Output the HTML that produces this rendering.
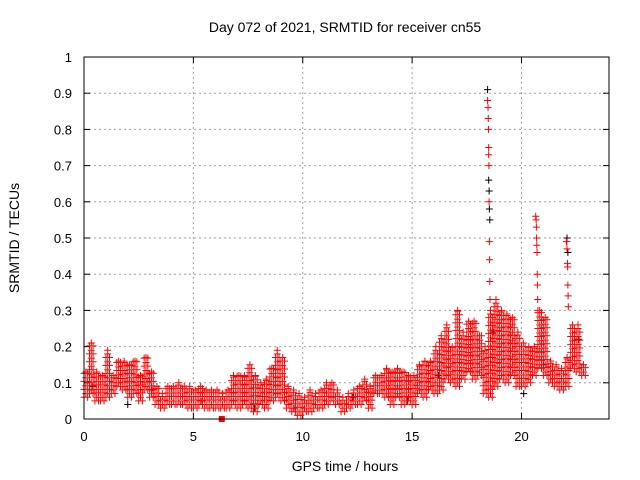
<!DOCTYPE html>
<html><head><meta charset="utf-8"><style>
body{margin:0;background:#fff}
svg{display:block;font-family:"Liberation Sans",sans-serif}
</style></head><body>
<svg id="chart" width="640" height="480" viewBox="0 0 640 480">
<rect width="640" height="480" fill="#fff"/>
<text x="345" y="32" font-size="14" text-anchor="middle">Day 072 of 2021, SRMTID for receiver cn55</text>
<text transform="translate(19,238) rotate(-90)" font-size="14" text-anchor="middle">SRMTID / TECUs</text>
<text x="345" y="471" font-size="14" text-anchor="middle">GPS time / hours</text>
<g id="grid"></g>
<g id="marks"></g>
<rect x="84" y="57" width="525" height="362" fill="none" stroke="#000" stroke-width="1"/>
</svg>
<script>
const binStart=[0,0.25,0.5,0.75,1,1.25,1.5,1.75,2,2.25,2.5,2.75,3,3.25,3.5,3.75,4,4.25,4.5,4.75,5,5.25,5.5,5.75,6,6.25,6.5,6.75,7,7.25,7.5,7.75,8,8.25,8.5,8.75,9,9.25,9.5,9.75,10,10.25,10.5,10.75,11,11.25,11.5,11.75,12,12.25,12.5,12.75,13,13.25,13.5,13.75,14,14.25,14.5,14.75,15,15.25,15.5,15.75,16,16.25,16.5,16.75,17,17.25,17.5,17.75,18,18.25,18.5,18.75,19,19.25,19.5,19.75,20,20.25,20.5,20.75,21,21.25,21.5,21.75,22,22.25,22.5,22.75];
const binMin=[.06,.07,.05,.05,.06,.07,.09,.08,.06,.07,.05,.08,.06,.04,.03,.04,.04,.04,.04,.03,.03,.04,.03,.03,.03,.03,.03,.04,.03,.04,.03,.02,.04,.03,.05,.06,.05,.03,.02,.01,.02,.02,.03,.03,.04,.05,.04,.02,.03,.04,.04,.05,.03,.07,.07,.06,.04,.06,.04,.05,.04,.07,.06,.08,.07,.08,.11,.10,.09,.11,.13,.11,.12,.07,.06,.09,.11,.10,.12,.09,.09,.10,.12,.14,.12,.10,.09,.08,.09,.14,.13,.12];
const binMax=[.13,.21,.13,.12,.19,.12,.16,.16,.15,.16,.12,.17,.13,.09,.07,.09,.09,.10,.09,.09,.08,.09,.08,.08,.08,.07,.08,.12,.12,.12,.15,.12,.10,.11,.14,.19,.17,.09,.08,.07,.06,.08,.07,.08,.10,.10,.08,.06,.07,.08,.09,.11,.09,.12,.12,.14,.13,.14,.13,.12,.12,.15,.16,.16,.20,.23,.26,.20,.30,.24,.27,.27,.23,.20,.30,.33,.30,.29,.28,.24,.21,.20,.20,.30,.28,.16,.15,.14,.17,.26,.26,.15];
const spikeT=[18.45,18.47,18.48,18.49,18.5,18.5,18.51,18.52,18.53,18.54,18.55,18.56,20.65,20.67,20.68,20.69,20.7,20.71,20.72,20.73,20.74,20.75,22.05,22.07,22.08,22.1,22.11,22.12,22.13,22.14];
const spikeV=[.88,.86,.83,.80,.75,.73,.70,.60,.49,.44,.38,.33,.56,.55,.53,.50,.48,.46,.40,.37,.33,.30,.49,.49,.47,.43,.42,.37,.34,.31];
const blackT=[18.45,18.5,18.52,18.53,18.55,22.08,22.12,2.0,3.1,5.4,7.8,12.3,14.8,16.2,18.7,20.1,21.0,22.6,0.4,9.6];
const blackV=[.91,.66,.63,.58,.55,.50,.46,.04,.08,.05,.03,.06,.05,.12,.24,.07,.15,.22,.09,.03];
const xTicks=[0,5,10,15,20];
const yTicks=[0,0.1,0.2,0.3,0.4,0.5,0.6,0.7,0.8,0.9,1];
const yLabels=["0","0.1","0.2","0.3","0.4","0.5","0.6","0.7","0.8","0.9","1"];

const NS="http://www.w3.org/2000/svg";
const X=t=>84+t*(525/24);
const Y=v=>419-v*362;
const grid=document.getElementById('grid');
const marks=document.getElementById('marks');
function mk(tag,attrs,parent){const e=document.createElementNS(NS,tag);for(const k in attrs)e.setAttribute(k,attrs[k]);parent.appendChild(e);return e;}
xTicks.forEach(t=>{
  if(t>0){const l=mk('line',{x1:X(t),x2:X(t),y1:57,y2:419,stroke:'#a0a0a0','stroke-dasharray':'2,3'},grid);
  
  }
  mk('line',{x1:X(t),x2:X(t),y1:419,y2:413,stroke:'#000'},grid);
  mk('line',{x1:X(t),x2:X(t),y1:57,y2:63,stroke:'#000'},grid);
  const tx=mk('text',{x:X(t),y:441,'font-size':13,'text-anchor':'middle'},grid);tx.textContent=t;
  
  
});
yTicks.forEach((v,i)=>{
  if(v>0&&v<1){const l=mk('line',{x1:84,x2:609,y1:Y(v),y2:Y(v),stroke:'#a0a0a0','stroke-dasharray':'2,3'},grid);
  
  }
  mk('line',{x1:84,x2:90,y1:Y(v),y2:Y(v),stroke:'#000'},grid);
  mk('line',{x1:603,x2:609,y1:Y(v),y2:Y(v),stroke:'#000'},grid);
  const tx=mk('text',{x:72,y:Y(v)+5,'font-size':13,'text-anchor':'end'},grid);tx.textContent=yLabels[i];
  
  
});
function cross(x,y){return `M${x-3.5},${y}h7M${x},${y-3.5}v7`;}
let dBlack='';
blackT.forEach((t,i)=>{dBlack+=cross(X(t),Y(blackV[i]));});
const pb=mk('path',{d:dBlack,stroke:'#000',fill:'none','stroke-width':1},marks);


let dRed='';
binStart.forEach((t,i)=>{
  const lo=binMin[i],hi=binMax[i];
  for(let k=0;k<3;k++){
    const xt=t+k*0.083;
    const off=(k%2)*0.01;
    for(let v=lo+off;v<=hi+1e-9;v+=0.022){dRed+=cross(X(xt),Y(v));}
    if(k===1)dRed+=cross(X(xt),Y(hi));
    if(k===0)dRed+=cross(X(xt),Y(lo));
  }
});
spikeT.forEach((t,i)=>{dRed+=cross(X(t),Y(spikeV[i]));});
const pr=mk('path',{d:dRed,stroke:'#ff0000',fill:'none','stroke-width':1},marks);


const sq=mk('rect',{x:X(6.3)-3,y:Y(0)-3,width:6,height:6,fill:'#ff0000'},marks);


</script>
</body></html>
